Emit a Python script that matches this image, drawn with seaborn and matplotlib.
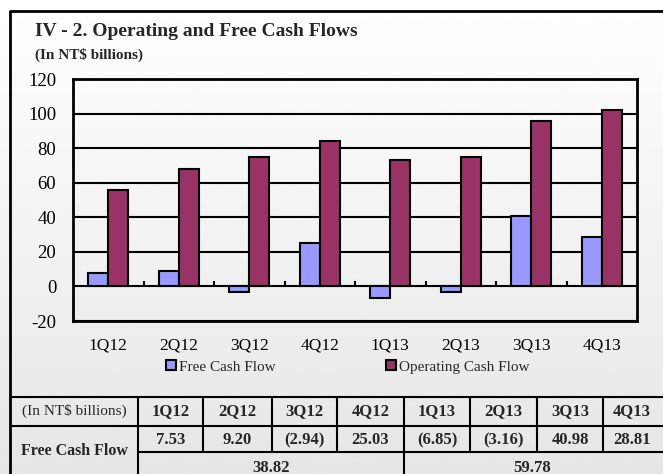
import numpy as np
import pandas as pd
import matplotlib
matplotlib.use("Agg")
import matplotlib.pyplot as plt
import seaborn as sns

quarters = ["1Q12", "2Q12", "3Q12", "4Q12", "1Q13", "2Q13", "3Q13", "4Q13"]
free_cash_flow = [7.53, 9.20, -2.94, 25.03, -6.85, -3.16, 40.98, 28.81]
operating_cash_flow = [55.5, 68.1, 74.8, 84.0, 73.0, 74.8, 95.8, 102.2]
yearly_fcf_totals = [38.82, 59.78]
series_names = ["Free Cash Flow", "Operating Cash Flow"]
series_colors = ["#9999FF", "#993366"]
y_ticks = [-20, 0, 20, 40, 60, 80, 100, 120]

sns.set_theme(style="white")
plt.rcParams["font.family"] = ["Liberation Serif", "DejaVu Serif"]
plt.rcParams["axes.unicode_minus"] = False

df = pd.DataFrame({
    "quarter": quarters * 2,
    "value": free_cash_flow + operating_cash_flow,
    "series": [series_names[0]] * len(quarters) + [series_names[1]] * len(quarters),
})

W, H = 663, 474
fig = plt.figure(figsize=(W / 100, H / 100), dpi=100)

# background with the light grey gradient, in pixel coordinates
bg = fig.add_axes([0, 0, 1, 1], zorder=0)
grad = np.linspace(1.0, 0.9, 256).reshape(-1, 1)
bg.imshow(grad, cmap="gray", vmin=0, vmax=1, aspect="auto", extent=[0, W, H, 0])
bg.set_xlim(0, W)
bg.set_ylim(H, 0)
bg.axis("off")

# outer frame
bg.plot([10, 10, W + 5], [H + 5, 11, 11], color="black", lw=2, solid_capstyle="projecting")

# chart
ax = fig.add_axes([73 / W, 1 - 321 / H, (637 - 73) / W, (321 - 79) / H], zorder=1)
ax.set_facecolor("none")
sns.barplot(data=df, x="quarter", y="value", hue="series", hue_order=series_names,
            palette=series_colors, width=0.57, gap=0, edgecolor="black",
            linewidth=1.5, saturation=1, ax=ax)

# small tick marks between the quarters on the zero line
ax.vlines(np.arange(len(quarters) - 1) + 0.5, 0, 3, color="black", lw=1.5)

ax.set_xlim(-0.5, len(quarters) - 0.5)
ax.set_ylim(-20, 120)
ax.set_yticks(y_ticks)
ax.set_axisbelow(True)
ax.grid(axis="y", color="black", linewidth=1.5)
for s in ax.spines.values():
    s.set_color("black")
    s.set_linewidth(2)
ax.tick_params(axis="x", length=0, pad=12, labelsize=12.5, colors="black")
ax.tick_params(axis="y", length=0, pad=12, labelsize=13.5, colors="black")
ax.set_xlabel("")
ax.set_ylabel("")

handles, labels = ax.get_legend_handles_labels()
ax.get_legend().remove()
fig.legend(handles, labels, loc="center", bbox_to_anchor=(348 / W, 1 - 367 / H), ncol=2,
           frameon=False, fontsize=11, handlelength=0.65, handleheight=0.65,
           handletextpad=0.2, columnspacing=7.2, borderaxespad=0)

fig.text(35 / W, 1 - 31 / H, "IV - 2. Operating and Free Cash Flows",
         fontsize=14, fontweight="bold", va="center", ha="left")
fig.text(35 / W, 1 - 55 / H, "(In NT$ billions)",
         fontsize=11, fontweight="bold", va="center", ha="left")

# table under the chart
col_edges = [10, 138, 203, 272, 337, 404, 470, 537, 603, 660]
bg.hlines([397, 426], 10, W + 5, color="black", lw=1.5)
bg.hlines(452, 138, W + 5, color="black", lw=1.5)
bg.vlines(col_edges[1:-1], 397, 452, color="black", lw=1.5)
bg.vlines([138, 404], 452, H + 5, color="black", lw=1.5)

bg.text((col_edges[0] + col_edges[1]) / 2, 411, "(In NT$ billions)", fontsize=11,
        ha="center", va="center")
bg.text((col_edges[0] + col_edges[1]) / 2, 451, "Free Cash Flow", fontsize=11.5,
        fontweight="bold", ha="center", va="center")


def fmt(v):
    return f"({abs(v):.2f})" if v < 0 else f"{v:.2f}"


for i, (q, v) in enumerate(zip(quarters, free_cash_flow)):
    cx = (col_edges[i + 1] + col_edges[i + 2]) / 2
    bg.text(cx, 411, q, fontsize=12, fontweight="bold", ha="center", va="center")
    bg.text(cx, 440, fmt(v), fontsize=12, fontweight="bold", ha="center", va="center")

# the totals row is cut by the bottom edge in the original as well
for j, tot in enumerate(yearly_fcf_totals):
    cx = (col_edges[1 + 4 * j] + col_edges[5 + 4 * j]) / 2
    bg.text(cx, 468, fmt(tot), fontsize=12, fontweight="bold", ha="center", va="center")

fig.savefig("out.png", dpi=100)
